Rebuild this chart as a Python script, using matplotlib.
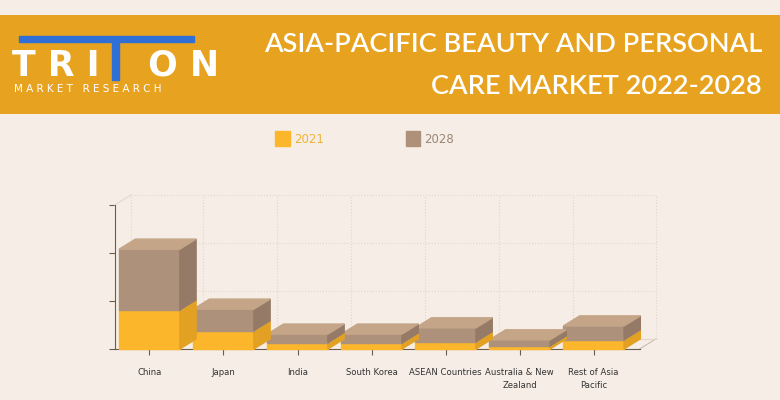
import matplotlib
matplotlib.use("Agg")
import matplotlib.pyplot as plt
from matplotlib.patches import Polygon, Rectangle

categories = ["China", "Japan", "India", "South Korea", "ASEAN Countries",
              "Australia & New\nZealand", "Rest of Asia\nPacific"]
val_2021 = [0.81, 0.38, 0.13, 0.12, 0.15, 0.06, 0.19]
val_2028 = [1.27, 0.45, 0.18, 0.19, 0.29, 0.13, 0.29]   # increment stacked on 2021
years = ["2021", "2028"]

BG = "#f6eee6"
BAND = "#e7a21f"
YEL = ("#fbb62b", "#e3a124", "#f5c054")   # front, side, top
BRN = ("#ae917a", "#957a67", "#c4a587")
W = 0.82
DX, DY = 0.22, 0.21

fig = plt.figure(figsize=(7.8, 4.0), dpi=100, facecolor=BG)

# header band
band = fig.add_axes([0, 0.715, 1, 0.248])
band.set_facecolor(BAND)
band.set_xticks([]); band.set_yticks([])
for s in band.spines.values():
    s.set_visible(False)
for y, line in [(0.888, "ASIA-PACIFIC BEAUTY AND PERSONAL"), (0.783, "CARE MARKET 2022-2028")]:
    fig.text(0.977, y, line, ha="right", va="center", color="white",
             fontsize=19.5, family="Lato", fontweight="semibold")
# logo
fig.patches.append(Rectangle((0.024, 0.895), 0.225, 0.016, transform=fig.transFigure,
                             color="#2f6fd6"))
fig.text(0.016, 0.835, "T R I    O N", ha="left", va="center", color="white",
         fontsize=25, fontweight="bold", family="DejaVu Sans")
fig.patches.append(Rectangle((0.143, 0.80), 0.009, 0.10, transform=fig.transFigure,
                             color="#2f6fd6"))
fig.text(0.018, 0.778, "M A R K E T   R E S E A R C H", ha="left", va="center",
         color="white", fontsize=7.5, family="DejaVu Sans")

# legend
fig.patches.append(Rectangle((0.353, 0.635), 0.019, 0.037, transform=fig.transFigure, color=YEL[0]))
fig.text(0.377, 0.652, years[0], color="#f0b233", fontsize=8.5, va="center")
fig.patches.append(Rectangle((0.52, 0.635), 0.019, 0.037, transform=fig.transFigure, color=BRN[0]))
fig.text(0.544, 0.652, years[1], color="#9c8674", fontsize=8.5, va="center")

ax = fig.add_axes([0.147, 0.1275, 0.673, 0.36])
ax.set_facecolor("none")
n = len(categories)
x0, x1 = -0.47, 6.62
ax.set_xlim(x0, x1)
ax.set_ylim(0, 3)

# back wall grid
gc = "#e2d6cc"
for v in [1, 2, 3]:
    ax.plot([x0 + DX, x1 + DX], [v + DY, v + DY], color=gc, lw=0.8, ls=":", clip_on=False)
for i in range(n + 1):
    xv = i - 0.5 + DX if i < n else x1 + DX
    if i == 0:
        xv = x0 + DX
    ax.plot([xv, xv], [DY, 3 + DY], color=gc, lw=0.8, ls=":", clip_on=False)
ax.plot([x0, x0 + DX], [3, 3 + DY], color=gc, lw=0.8, clip_on=False)
ax.plot([x1, x1 + DX], [0, DY], color="#c9bcb0", lw=0.8, clip_on=False)
ax.plot([x0 + DX, x1 + DX], [DY, DY], color=gc, lw=0.8, clip_on=False)


def box(xc, y0, h, cols, z):
    l, r = xc - W / 2, xc + W / 2
    ax.add_patch(Rectangle((l, y0), W, h, color=cols[0], zorder=z, clip_on=False))
    ax.add_patch(Polygon([(r, y0), (r + DX, y0 + DY), (r + DX, y0 + h + DY), (r, y0 + h)],
                         color=cols[1], zorder=z, clip_on=False))
    ax.add_patch(Polygon([(l, y0 + h), (r, y0 + h), (r + DX, y0 + h + DY), (l + DX, y0 + h + DY)],
                         color=cols[2], zorder=z, clip_on=False))


for i in range(n):
    z = 3 + (n - i) * 2
    box(i, 0, val_2021[i], YEL, z)
    box(i, val_2021[i], val_2028[i], BRN, z + 1)

ax.set_xticks(range(n))
ax.set_xticklabels(categories, fontsize=6.1, color="#333333", linespacing=1.5)
ax.set_yticks([0, 1, 2, 3])
ax.set_yticklabels([])
ax.tick_params(axis="both", color="#6b5b4e", length=4, width=0.8)
ax.tick_params(axis="x", pad=10)
for k in ["top", "right"]:
    ax.spines[k].set_visible(False)
for k in ["left", "bottom"]:
    ax.spines[k].set_color("#6b5b4e")
    ax.spines[k].set_linewidth(0.8)

fig.savefig("out.png", dpi=100, facecolor=BG)
